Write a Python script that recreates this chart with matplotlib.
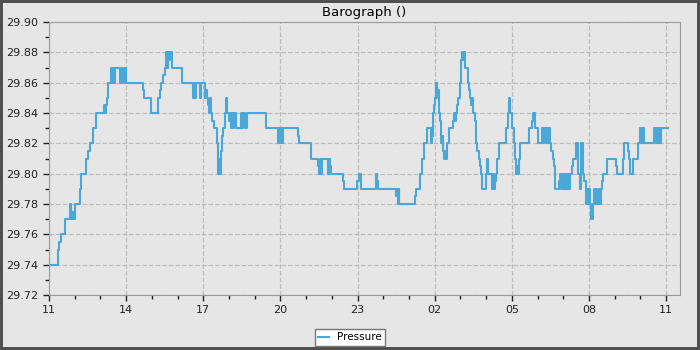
import matplotlib
matplotlib.use("Agg")
import matplotlib.pyplot as plt
from matplotlib.ticker import MultipleLocator, FormatStrFormatter

# days since first reading, pressure (inHg) - step changes
days = [0.00, 0.34, 0.40, 0.47, 0.62, 0.82, 0.85, 0.88, 0.91, 0.94, 0.97, 1.00,
        1.21, 1.24, 1.43, 1.53, 1.59, 1.72, 1.82, 2.15, 2.19, 2.23, 2.27, 2.31,
        2.41, 2.45, 2.49, 2.53, 2.58, 2.76, 2.80, 2.85, 2.90, 2.96, 2.99, 3.64,
        3.69, 3.95, 4.24, 4.30, 4.34, 4.43, 4.50, 4.56, 4.60, 4.64, 4.68, 4.72,
        4.78, 5.17, 5.60, 5.64, 5.66, 5.70, 5.89, 5.93, 6.05, 6.06, 6.08, 6.16,
        6.18, 6.22, 6.26, 6.30, 6.35, 6.41, 6.53, 6.56, 6.59, 6.62, 6.64, 6.67,
        6.70, 6.74, 6.77, 6.83, 6.86, 6.90, 6.93, 7.00, 7.03, 7.09, 7.13, 7.17,
        7.21, 7.26, 7.48, 7.52, 7.56, 7.61, 7.70, 8.44, 8.89, 8.92, 8.96, 9.00,
        9.04, 9.07, 9.11, 9.67, 9.72, 10.19, 10.45, 10.49, 10.53, 10.56, 10.61,
        10.86, 10.89, 10.92, 10.97, 11.42, 11.46, 11.99, 12.06, 12.15, 12.73,
        12.77, 12.80, 13.51, 13.54, 13.57, 13.60, 13.63, 13.68, 14.24, 14.29,
        14.43, 14.52, 14.60, 14.71, 14.85, 14.88, 14.91, 14.95, 14.99, 15.01,
        15.04, 15.06, 15.08, 15.10, 15.16, 15.20, 15.24, 15.30, 15.34, 15.36,
        15.40, 15.44, 15.49, 15.56, 15.73, 15.75, 15.80, 15.84, 15.86, 15.90,
        15.97, 16.02, 16.06, 16.10, 16.13, 16.17, 16.28, 16.35, 16.39, 16.42,
        16.45, 16.48, 16.56, 16.60, 16.65, 16.71, 16.78, 16.81, 16.84, 17.01,
        17.04, 17.08, 17.23, 17.26, 17.29, 17.34, 17.40, 17.43, 17.49, 17.78,
        17.85, 17.88, 17.94, 18.01, 18.07, 18.14, 18.18, 18.22, 18.25, 18.29,
        18.33, 18.66, 18.80, 18.83, 18.92, 19.02, 19.18, 19.22, 19.27, 19.32,
        19.37, 19.42, 19.46, 19.50, 19.54, 19.59, 19.65, 19.69, 19.82, 19.86,
        19.90, 19.94, 19.98, 20.02, 20.06, 20.10, 20.14, 20.18, 20.22, 20.26,
        20.33, 20.39, 20.50, 20.56, 20.59, 20.65, 20.69, 20.76, 20.82, 20.87,
        20.91, 20.95, 20.99, 21.03, 21.08, 21.17, 21.21, 21.24, 21.27, 21.30,
        21.40, 21.44, 21.47, 21.50, 21.56, 21.69, 22.05, 22.10, 22.34, 22.38,
        22.53, 22.57, 22.61, 22.70, 22.90, 22.99, 23.03, 23.05, 23.08, 23.12,
        23.14, 23.54, 23.62, 23.66, 23.70, 23.74, 23.77, 23.80, 24.09]
pressure = [29.74, 29.75, 29.755, 29.76, 29.77, 29.78, 29.77, 29.775, 29.77, 29.775, 29.77, 29.78,
            29.79, 29.80, 29.81, 29.815, 29.82, 29.83, 29.84, 29.845, 29.84, 29.845, 29.85, 29.86,
            29.87, 29.86, 29.87, 29.86, 29.87, 29.86, 29.87, 29.86, 29.87, 29.87, 29.86, 29.855,
            29.85, 29.84, 29.85, 29.855, 29.86, 29.865, 29.87, 29.88, 29.87, 29.88, 29.875, 29.88,
            29.87, 29.86, 29.85, 29.86, 29.85, 29.86, 29.85, 29.86, 29.85, 29.86, 29.855, 29.85,
            29.845, 29.84, 29.85, 29.84, 29.835, 29.83, 29.82, 29.81, 29.80, 29.81, 29.80, 29.81,
            29.815, 29.825, 29.83, 29.835, 29.84, 29.85, 29.84, 29.835, 29.84, 29.83, 29.84, 29.83,
            29.84, 29.83, 29.84, 29.83, 29.84, 29.83, 29.84, 29.83, 29.825, 29.82, 29.83, 29.82,
            29.83, 29.82, 29.83, 29.825, 29.82, 29.81, 29.805, 29.80, 29.81, 29.80, 29.81,
            29.80, 29.81, 29.805, 29.80, 29.795, 29.79, 29.795, 29.80, 29.79, 29.80,
            29.795, 29.79, 29.785, 29.79, 29.78, 29.79, 29.78, 29.78, 29.785, 29.79,
            29.80, 29.81, 29.82, 29.83, 29.82, 29.83, 29.825, 29.84, 29.845, 29.85,
            29.86, 29.85, 29.86, 29.855, 29.84, 29.835, 29.82, 29.825, 29.815, 29.81,
            29.815, 29.81, 29.82, 29.83, 29.835, 29.84, 29.835, 29.84, 29.845, 29.85,
            29.86, 29.875, 29.88, 29.875, 29.88, 29.87, 29.86, 29.855, 29.85, 29.845,
            29.85, 29.84, 29.835, 29.82, 29.815, 29.81, 29.805, 29.80, 29.79, 29.80,
            29.81, 29.80, 29.79, 29.80, 29.79, 29.795, 29.80, 29.81, 29.82, 29.83,
            29.84, 29.85, 29.84, 29.83, 29.82, 29.81, 29.80, 29.805, 29.80, 29.81,
            29.82, 29.83, 29.835, 29.84, 29.83, 29.82, 29.83, 29.82, 29.83, 29.82,
            29.83, 29.82, 29.83, 29.82, 29.815, 29.81, 29.805, 29.79, 29.795, 29.80,
            29.79, 29.80, 29.79, 29.80, 29.79, 29.80, 29.79, 29.80, 29.79, 29.80,
            29.805, 29.81, 29.82, 29.81, 29.80, 29.79, 29.82, 29.80, 29.795, 29.78,
            29.79, 29.78, 29.79, 29.78, 29.77, 29.78, 29.79, 29.78, 29.79, 29.78,
            29.79, 29.78, 29.79, 29.795, 29.80, 29.81, 29.805, 29.80, 29.81, 29.82,
            29.815, 29.81, 29.80, 29.81, 29.82, 29.83, 29.82, 29.83, 29.82, 29.83,
            29.82, 29.83, 29.82, 29.83, 29.82, 29.83, 29.82, 29.83, 29.83]

tick_days = [0, 3, 6, 9, 12, 15, 18, 21, 24]
tick_labels = ["11", "14", "17", "20", "23", "02", "05", "08", "11"]

bg = "#e6e6e6"
fig = plt.figure(figsize=(7, 3.5), dpi=100, facecolor=bg,
                 edgecolor="#505050", linewidth=3)
ax = fig.add_axes([0.07, 0.157, 0.9014, 0.78])
ax.set_facecolor(bg)

ax.step(days, pressure, where="post", color="#4aa8d8", lw=1.5, label="Pressure")

ax.set_xlim(0, 24.54)
ax.set_ylim(29.72, 29.90)
ax.set_xticks(tick_days)
ax.set_xticklabels(tick_labels)
ax.xaxis.set_minor_locator(MultipleLocator(1))
ax.yaxis.set_major_locator(MultipleLocator(0.02))
ax.yaxis.set_minor_locator(MultipleLocator(0.01))
ax.yaxis.set_major_formatter(FormatStrFormatter("%.2f"))
ax.tick_params(labelsize=8, colors="#222222", length=4, width=1)
ax.tick_params(which="minor", length=3, width=1, colors="#222222")
ax.grid(True, which="major", ls="--", color="#bdbdbd", lw=0.9)
for s in ax.spines.values():
    s.set_color("#999999")

ax.set_title("Barograph ()", fontsize=9.5, pad=4)
fig.legend(loc="lower center", bbox_to_anchor=(0.5, 0.0), fontsize=7.5,
           frameon=True, fancybox=False, edgecolor="#777777", facecolor="white",
           framealpha=1, handlelength=1.0, borderpad=0.35, borderaxespad=0.4,
           handletextpad=0.8)
fig.legend_ = None

fig.savefig("out.png", dpi=100, facecolor=bg, edgecolor="#505050")
